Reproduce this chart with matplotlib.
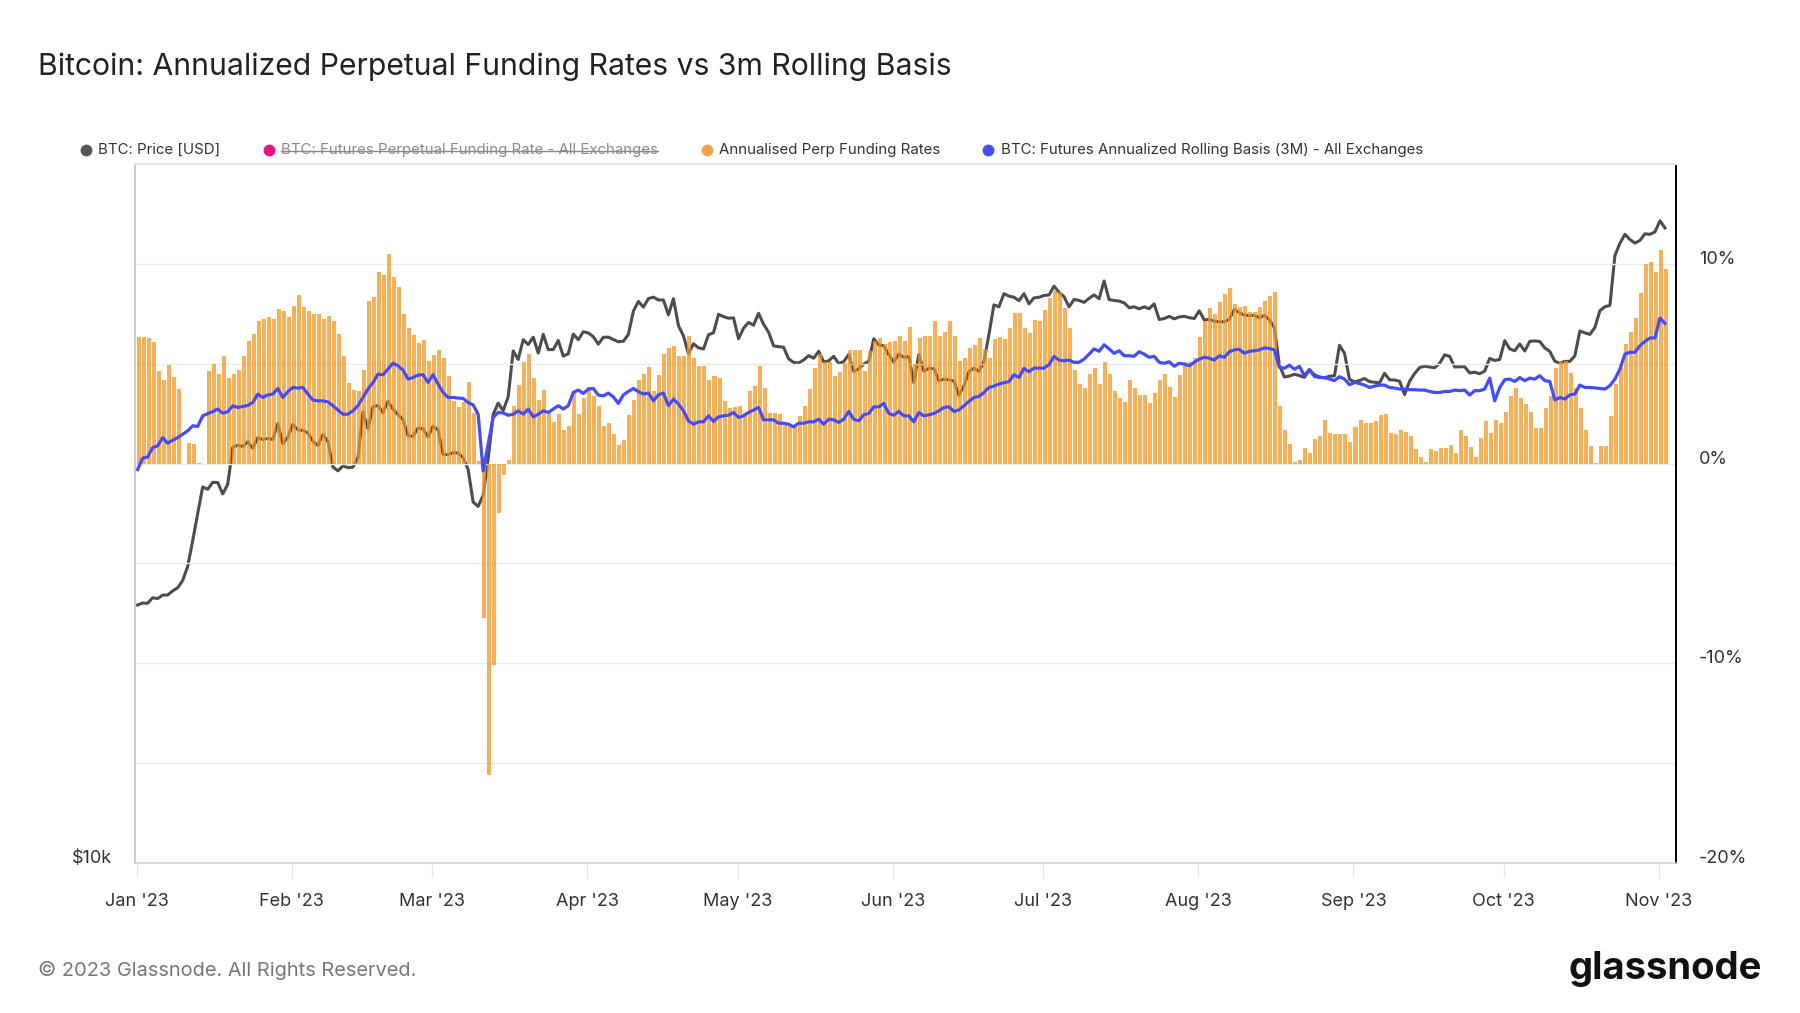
import numpy as np
import pandas as pd
import matplotlib
matplotlib.use("Agg")
import matplotlib.pyplot as plt
import matplotlib.dates as mdates
from matplotlib.lines import Line2D
from matplotlib.ticker import NullLocator

# daily values, 2023-01-01 .. 2023-11-02
price = [
    16625, 16688, 16680, 16863, 16836, 16951, 16955, 17091, 17197, 17446, 17934, 18869, 19910, 20976, 20880, 21169,
    21161, 20688, 21086, 22676, 22777, 22720, 22934, 22636, 23117, 23032, 23078, 23031, 23774, 22840, 23139,
    23723, 23471, 23449, 23331, 22955, 22760, 23264, 22939, 21819, 21651, 21870, 21788, 21808, 22220, 24327, 23517,
    24569, 24631, 24271, 24843, 24451, 24188, 23947, 23199, 23175, 23561, 23522, 23147,
    23646, 23476, 22362, 22354, 22435, 22429, 22219, 21718, 20363, 20187, 20633, 22163, 24197, 24746, 24375, 25052,
    27423, 26966, 28038, 27767, 28176, 27308, 28333, 27493, 27494, 27994, 27139, 27268, 28348, 28033, 28478,
    28411, 28199, 27790, 28168, 28177, 28044, 27925, 27948, 28333, 29652, 30235, 29892, 30400, 30485, 30318, 30315,
    29445, 30397, 28823, 28245, 27277, 27817, 27591, 27525, 28307, 28422, 29473, 29340, 29248, 29268,
    28091, 28680, 29006, 28847, 29535, 28904, 28455, 27695, 27654, 27621, 27000, 26805, 26785, 26932, 27172, 27033,
    27404, 26832, 26890, 27130, 26754, 26851, 27226, 26334, 26476, 26719, 26868, 28085, 27746, 27702, 27220,
    26819, 27249, 27075, 27119, 25760, 27238, 26346, 26498, 26478, 25851, 25940, 25903, 25842, 25130, 25586, 26327,
    26511, 26336, 26852, 28327, 30028, 29912, 30696, 30548, 30481, 30272, 30697, 30087, 30446, 30477,
    30590, 30620, 31156, 30777, 30514, 29910, 30346, 30292, 30172, 30414, 30620, 30392, 31476, 30335, 30295, 30249,
    30146, 29857, 29914, 29793, 29909, 29800, 30085, 29177, 29227, 29354, 29210, 29319, 29357, 29278, 29230,
    29675, 29152, 29178, 29074, 29042, 29041, 29180, 29765, 29561, 29429, 29397, 29415, 29283, 29408, 29170, 28701,
    26664, 26049, 26096, 26189, 26124, 26031, 26431, 26163, 26047, 26004, 26089, 26106, 27727, 27297, 25931,
    25800, 25869, 25969, 25812, 25779, 25753, 26240, 25906, 25895, 25832, 25162, 25833, 26228, 26539, 26608, 26568,
    26534, 26755, 27211, 27133, 26567, 26580, 26580, 26256, 26298, 26218, 26353, 27022, 26911, 26968,
    27984, 27531, 27430, 27799, 27415, 27947, 27967, 27936, 27584, 27392, 26873, 26757, 26862, 26862, 27157, 28519,
    28415, 28328, 28719, 29682, 29919, 29993, 33087, 33901, 34502, 34156, 33909, 34090, 34538, 34502, 34667,
    35437, 34938,
]

# annualised perp funding, %
funding = [
    6.35, 6.35, 6.27, 6.07, 4.65, 4.18, 4.93, 4.31, 3.73, 0.0, 1.02, 0.97, 0.02, 0.0,
    4.65, 5.0, 4.5, 5.37, 4.3, 4.46, 4.7, 5.37, 6.14, 6.49, 7.16, 7.24, 7.32, 7.24, 7.74, 7.63,
    7.32, 7.9, 8.44, 7.86, 7.63, 7.49, 7.49, 7.24, 7.41, 7.16, 6.49, 5.37, 4.01, 3.7, 3.65, 4.7,
    8.16, 8.33, 9.58, 9.46, 10.48, 9.36, 8.83, 7.49, 6.79, 6.44, 6.05, 6.19, 5.15, 5.45, 5.69, 5.28,
    4.4, 3.14, 2.84, 3.09, 4.1, 2.53, 0.15,
    -7.73, -15.6, -10.07, -2.45, -0.57, 0.18,
    2.9, 3.95, 5.1, 5.5, 4.3, 3.2, 3.7, 2.55, 2.1, 2.5, 1.67, 1.9, 3.65, 2.5, 3.3, 3.85,
    3.4, 2.9, 1.9, 2.05, 1.5, 0.94, 1.2, 2.45, 3.2, 4.2, 4.5, 4.85, 3.65, 4.45, 5.5, 5.8,
    5.87, 5.4, 5.4, 6.4, 5.3, 4.9, 4.9, 4.2, 4.4, 4.3, 3.15, 2.8, 2.85, 2.9, 2.55, 3.65,
    3.9, 4.9, 3.8, 2.55, 2.55, 2.5, 1.97, 1.97, 1.9, 2.4, 2.9, 3.73, 4.8, 5.5, 5.1, 5.1,
    4.4, 4.6, 5.05, 5.7, 5.7, 5.7, 4.65,
    5.65, 6.15, 6.3, 6.0, 6.1, 6.15, 6.4, 6.15, 6.85, 5.0, 6.27, 6.4, 6.4, 7.15, 6.4, 6.6,
    7.15, 6.4, 5.15, 5.3, 5.8, 5.95, 6.27, 5.75, 5.3, 6.25, 6.35, 6.25, 6.8, 7.55, 7.55, 6.8,
    6.55, 7.2, 7.15, 7.7, 8.3, 8.65, 8.6, 7.8, 6.8, 4.7, 4.0, 3.8, 4.5, 4.8, 4.0, 5.07,
    4.5, 3.65, 3.3, 3.1, 4.2, 3.8, 3.45, 3.45, 3.05, 3.55, 4.2, 4.5, 3.85, 3.35, 4.45, 5.07,
    5.07, 5.3, 6.35, 7.15, 7.8, 7.5, 8.1,
    8.5, 8.8, 8.0, 7.85, 7.9, 7.6, 7.6, 7.85, 8.15, 8.4, 8.6,
    2.9, 1.67, 0.97, 0.1, 0.17, 0.77, 0.55, 1.22, 1.4, 2.2, 1.52, 1.47, 1.47, 1.47, 1.09, 1.84,
    2.2, 2.05, 2.05, 2.14, 2.42, 2.5, 1.52, 1.47, 1.67, 1.6, 1.39, 0.72, 0.33, 0.1, 0.75, 0.64,
    0.77, 0.77, 0.94, 0.55, 1.67, 1.39, 0.85, 0.33, 1.3, 2.14, 1.52, 2.17, 2.05, 2.6, 3.4, 3.78,
    3.28, 2.98, 2.56, 1.76, 1.76,
    2.76, 3.4, 4.78, 5.07, 5.15, 4.53, 3.78, 2.76, 1.69, 0.89, 0.02, 0.89, 0.89, 2.36, 4.0, 5.0,
    6.0, 6.57, 7.3, 8.55, 9.97, 10.1, 9.6, 10.7, 9.75,
]

# 3m rolling basis, annualised %
basis = [
    -0.3, 0.27, 0.33, 0.8, 0.89, 1.3, 1.02, 1.17, 1.3, 1.47, 1.64, 1.89, 1.86, 2.39, 2.5, 2.6,
    2.73, 2.52, 2.6, 2.89, 2.81, 2.86, 2.91, 3.06, 3.48, 3.31, 3.44, 3.48, 3.76, 3.31, 3.6, 3.81,
    3.78, 3.81, 3.48, 3.18, 3.14, 3.14, 3.09, 2.9, 2.68, 2.47, 2.47, 2.64, 2.9, 3.31, 3.73, 4.06,
    4.48, 4.45, 4.73, 5.03, 4.9, 4.68, 4.23, 4.31, 4.43, 4.45, 4.06, 4.45, 3.98, 3.56, 3.31, 3.31,
    3.28, 3.26, 3.06, 2.94, 2.47, -0.37, 0.97, 2.31, 2.56, 2.53, 2.42, 2.47, 2.64,
    2.47, 2.73, 2.34, 2.47, 2.64, 2.56, 2.73, 2.9, 2.73, 2.9, 3.56, 3.68, 3.51, 3.73, 3.76, 3.43,
    3.39, 3.53, 3.34, 3.01, 3.44, 3.61, 3.76, 3.6, 3.48, 3.53, 3.14, 3.44, 3.53, 2.9, 3.23, 2.98,
    2.64, 2.14, 1.97, 2.09, 2.09, 2.39, 2.11, 2.34, 2.39, 2.42, 2.56, 2.31, 2.39, 2.56, 2.68, 2.81,
    2.19, 2.19, 2.19, 2.02, 2.02, 1.97, 1.84, 2.02, 2.02, 2.09, 2.09,
    2.22, 1.97, 2.22, 2.19, 2.06, 2.22, 2.61, 2.22, 2.14, 2.44, 2.51, 2.84, 2.84, 3.01, 2.51, 2.42,
    2.61, 2.39, 2.39, 2.09, 2.56, 2.39, 2.44, 2.51, 2.64, 2.81, 2.84, 2.61, 2.69, 2.89, 3.11, 3.31,
    3.36, 3.56, 3.81, 3.88, 3.98, 4.05, 4.1, 4.45, 4.31, 4.77, 4.6, 4.78, 4.78, 4.78, 4.95, 5.37,
    5.18, 5.15, 5.18, 5.07, 5.07, 5.23, 5.48, 5.74, 5.62, 5.95, 5.74, 5.52, 5.65, 5.4, 5.4, 5.37,
    5.6, 5.48, 5.32, 5.37, 5.07, 5.02, 5.1, 4.87, 5.02, 4.98, 4.9, 5.07, 5.23, 5.32, 5.28, 5.18, 5.4,
    5.32, 5.6, 5.69, 5.72, 5.52, 5.62, 5.65, 5.69, 5.79, 5.77, 5.69, 4.82, 4.77, 4.93, 4.72, 4.87,
    4.4, 4.7, 4.36, 4.31, 4.31, 4.23, 4.15, 4.35, 4.23, 3.95, 4.06, 4.01, 3.93, 3.81, 3.88, 3.93,
    3.93, 3.81, 3.78, 3.73, 3.73, 3.7, 3.7, 3.68, 3.68, 3.61, 3.56, 3.56, 3.61, 3.61, 3.68, 3.65,
    3.68, 3.43, 3.65, 3.65, 3.73, 4.28, 3.14, 3.81, 4.2, 4.23, 4.11, 4.31, 4.15, 4.28, 4.23, 4.4,
    4.15, 4.11, 3.18, 3.31, 3.23, 3.44, 3.48, 3.93, 3.81, 3.81, 3.79, 3.76, 3.73, 3.9, 4.23, 4.73,
    5.48, 5.57, 5.57, 5.9, 6.12, 6.29, 6.29, 7.29, 7.02,
]

pct_ticks = [-20, -15, -10, -5, 0, 5, 10, 15]
pct_labels = ["-20%", "", "-10%", "", "0%", "", "10%", ""]

legend_names = [
    "BTC: Price [USD]",
    "BTC: Futures Perpetual Funding Rate - All Exchanges",
    "Annualised Perp Funding Rates",
    "BTC: Futures Annualized Rolling Basis (3M) - All Exchanges",
]
legend_colors = ["#555555", "#e6157f", "#f9a04f", "#434cff"]

assert len(price) == len(funding) == len(basis)
dates = pd.date_range("2023-01-01", periods=len(price), freq="D")
x0 = mdates.date2num(dates[0])
xd = mdates.date2num(dates)

plt.rcParams["font.family"] = ["Inter", "DejaVu Sans"]

W, H = 1800, 1013
fig = plt.figure(figsize=(W / 100, H / 100), dpi=100)
ax = fig.add_axes([134.5 / W, 1 - 863 / H, (1676 - 134.5) / W, (863 - 164) / H])
ax2 = ax.twinx()

# price (left, log)
ax.plot(xd + 0.2, price, color="#4d4d4d", lw=2.2, zorder=2, solid_joinstyle="round")
ax.set_yscale("log")
ax.set_ylim(1e4, 39630)
ax.yaxis.set_minor_locator(NullLocator())
ax.set_yticks([1e4])
ax.set_yticklabels(["$10k"])
ax.tick_params(axis="y", length=0, pad=16, labelsize=13, labelcolor="#333333")
for t in ax.get_yticklabels():
    t.set_va("baseline")

# funding bars + basis (right)
ax2.bar(xd, funding, width=0.8, align="edge", color="#F7931A", alpha=0.74, zorder=2, linewidth=0)
ax2.plot(xd + 0.2, basis, color="#434cff", lw=2.3, zorder=3, solid_joinstyle="round")
ax2.set_ylim(-20, 15)
ax2.set_yticks(pct_ticks)
ax2.set_yticklabels(pct_labels)
ax2.tick_params(axis="y", length=0, pad=16.5, labelsize=13, labelcolor="#333333")
for t in ax2.get_yticklabels():
    t.set_va("baseline")
ax2.yaxis.grid(True, color="#ebebeb", lw=1)
ax2.set_axisbelow(True)

ax.set_xlim(x0 - 0.42, x0 + 307.4)
ax.xaxis.set_major_locator(mdates.MonthLocator())
ax.xaxis.set_major_formatter(mdates.DateFormatter("%b '%y"))
ax.tick_params(axis="x", length=11, width=1, color="#e6e6e6", pad=10.5, labelsize=13, labelcolor="#333333")

for s in ax.spines.values():
    s.set_visible(False)
ax2.spines["right"].set_color("black")
ax2.spines["right"].set_linewidth(1.4)
ax2.spines["left"].set_color("#c4c4c4")
ax2.spines["left"].set_linewidth(1.2)
ax2.spines["top"].set_color("#e6e6e6")
ax2.spines["top"].set_linewidth(1.5)
ax2.spines["bottom"].set_color("#d6d6d6")
ax2.spines["bottom"].set_linewidth(1.2)

# title, legend, footer
fig.text(38 / W, 1 - 67 / H, "Bitcoin: Annualized Perpetual Funding Rates vs 3m Rolling Basis",
         fontsize=21.7, color="#222222", va="center", ha="left")

marker_x = [86, 268.6, 707, 988.4]
text_x = [97.6, 281.3, 718.6, 1001]
ly = 1 - 150 / H
r = fig.canvas.get_renderer()
for name, col, mx, tx in zip(legend_names, legend_colors, marker_x, text_x):
    fig.add_artist(Line2D([mx / W], [ly], marker="o", markersize=7.5, color=col, lw=0,
                          transform=fig.transFigure))
    faded = "Perpetual" in name
    t = fig.text(tx / W, ly, name, fontsize=10.8, va="center", ha="left",
                 color="#8a8a8a" if faded else "#333333")
    if faded:
        bb = t.get_window_extent(renderer=r)
        yy = (bb.y0 + bb.height * 0.45) / H
        fig.add_artist(Line2D([bb.x0 / W, bb.x1 / W], [yy, yy], color="#8a8a8a", lw=1,
                              transform=fig.transFigure))

fig.text(38 / W, 1 - 970 / H, "\u00a9 2023 Glassnode. All Rights Reserved.",
         fontsize=14.4, color="#777777", va="center", ha="left")
fig.text(1762 / W, 1 - 969 / H, "glassnode", fontsize=27.5, fontweight="bold",
         color="#111111", va="center", ha="right")

fig.savefig("out.png", dpi=100)
